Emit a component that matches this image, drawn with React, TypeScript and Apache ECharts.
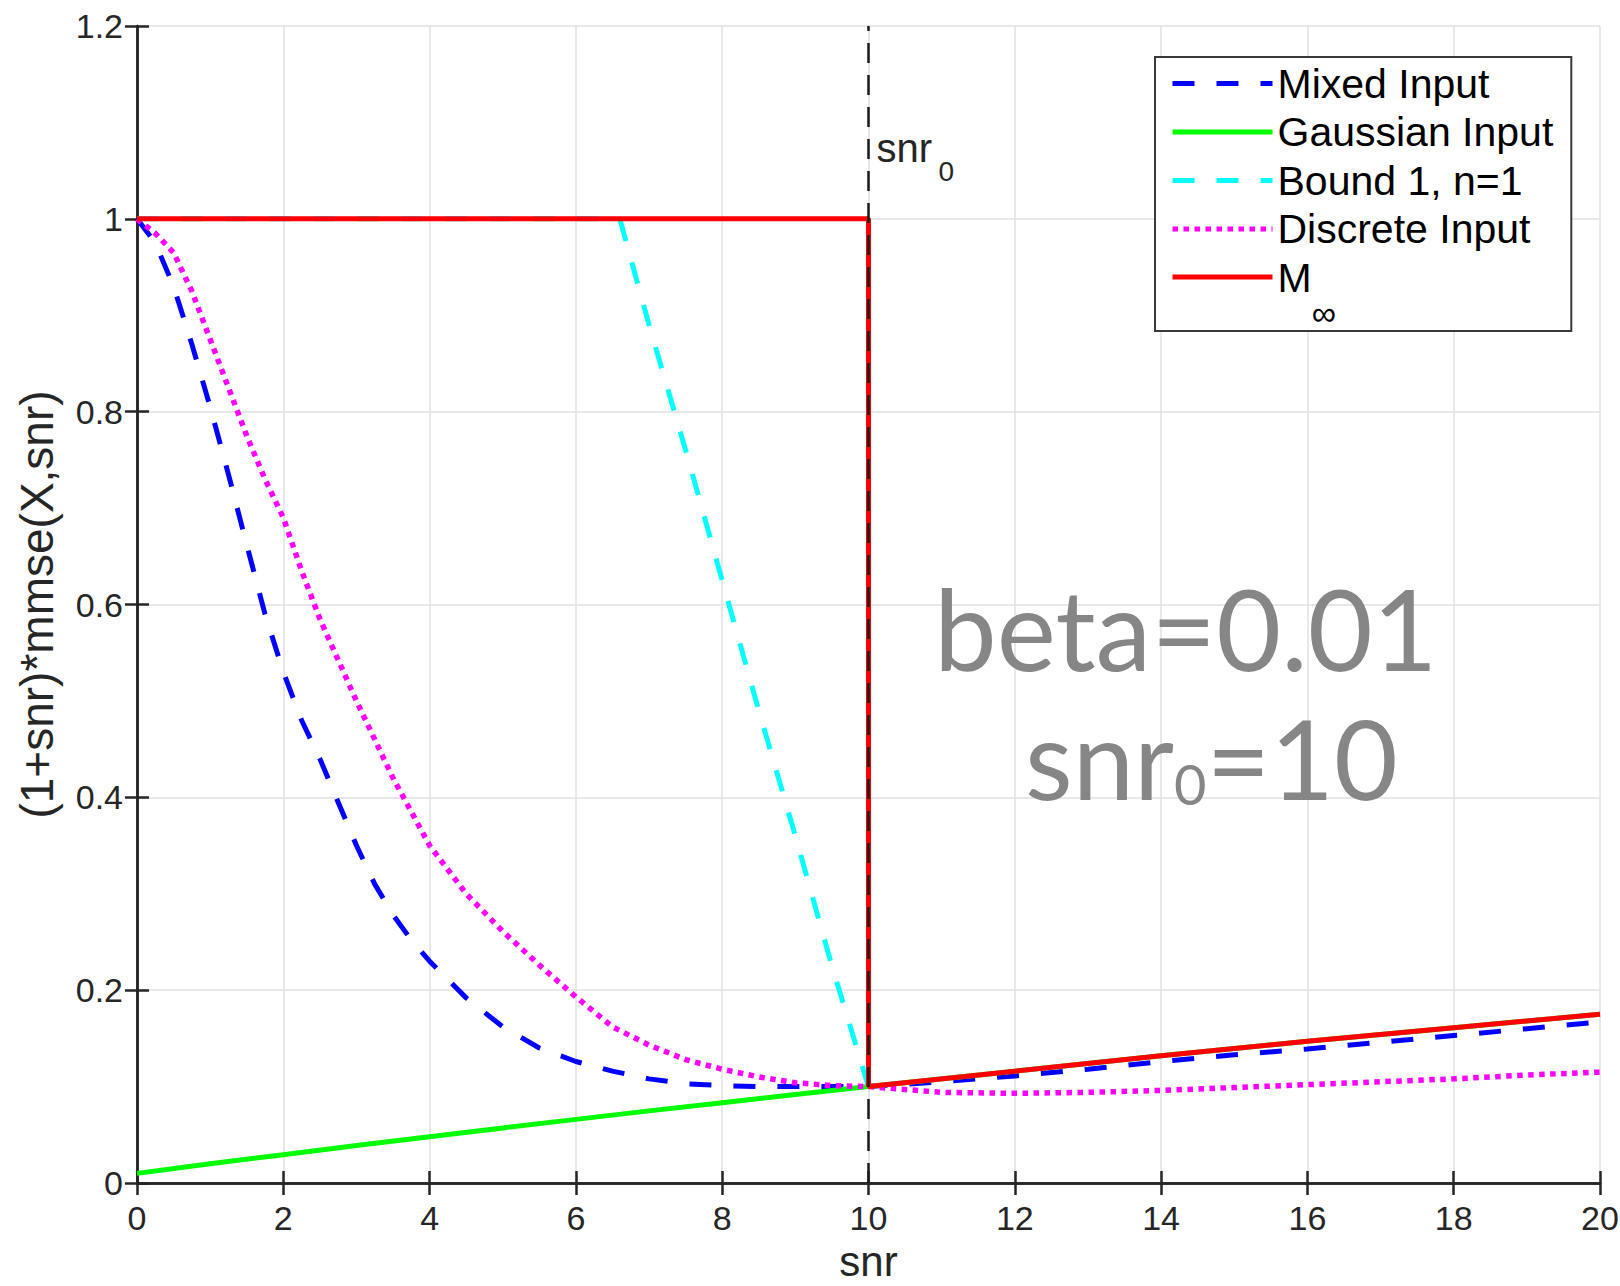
import React, { useEffect, useRef } from "react";
import * as echarts from "echarts";

// ---------- data ----------
const mixedSnr = [0, 0.25, 0.5, 0.75, 1, 1.25, 1.5, 1.75, 2, 2.25, 2.5, 2.75, 3, 3.25, 3.5, 3.75, 4, 4.5, 5, 5.5, 6, 6.5, 7, 7.5, 8, 8.5, 9, 9.5, 10, 11, 12, 13, 14, 15, 16, 17, 18, 19, 20];
const mixedVal = [1.0, 0.975, 0.93, 0.87, 0.805, 0.735, 0.662, 0.59, 0.53, 0.48, 0.44, 0.395, 0.35, 0.31, 0.278, 0.252, 0.23, 0.192, 0.162, 0.14, 0.126, 0.116, 0.108, 0.103, 0.101, 0.1, 0.1, 0.1, 0.1, 0.105, 0.111, 0.118, 0.126, 0.133, 0.139, 0.146, 0.153, 0.16, 0.167];

const gaussSnr = [0, 1, 2, 3, 4, 5, 6, 7, 8, 9, 10, 12, 14, 16, 18, 20];
const gaussVal = [0.01, 0.0199, 0.0294, 0.0388, 0.048, 0.0571, 0.066, 0.0748, 0.0833, 0.0917, 0.1, 0.116, 0.132, 0.147, 0.161, 0.175];

const boundSnr = [0, 6.6, 7, 7.5, 8, 8.5, 9, 9.5, 10];
const boundVal = [1.0, 1.0, 0.89, 0.76, 0.625, 0.49, 0.36, 0.225, 0.1];

const discreteSnr = [0, 0.25, 0.5, 0.75, 1, 1.25, 1.5, 1.75, 2, 2.25, 2.5, 3, 3.5, 4, 4.5, 5, 5.5, 6, 6.5, 7, 7.5, 8, 8.5, 9, 9.5, 10, 11, 12, 13, 14, 15, 16, 17, 18, 19, 20];
const discreteVal = [1.0, 0.985, 0.965, 0.925, 0.875, 0.825, 0.775, 0.73, 0.69, 0.635, 0.585, 0.5, 0.42, 0.35, 0.3, 0.261, 0.226, 0.193, 0.162, 0.143, 0.128, 0.118, 0.11, 0.104, 0.101, 0.1, 0.094, 0.093, 0.094, 0.096, 0.099, 0.102, 0.105, 0.108, 0.112, 0.115];

const mInfSnr = [0, 10, 10, 12, 14, 16, 18, 20];
const mInfVal = [1.0, 1.0, 0.1, 0.116, 0.132, 0.147, 0.161, 0.175];

const snr0 = 10;
const snr0LineY = [0, 1.2];

const legendNames = ["Mixed Input", "Gaussian Input", "Bound 1, n=1", "Discrete Input", "M∞"];

const zip = (xs: number[], ys: number[]) => xs.map((x, i) => [x, ys[i]]);

const FONT = '"Liberation Sans", Arial, Helvetica, sans-serif';
const BIG_FONT = "Lato, 'Noto Sans', sans-serif";
const AXIS_COLOR = "#262626";

export default function App() {
  const ref = useRef<HTMLDivElement>(null);

  useEffect(() => {
    document.body.style.margin = "0";
    if (!ref.current) return;
    const chart = echarts.init(ref.current, undefined, { renderer: "svg" });

    const axisLine = { show: true, lineStyle: { color: AXIS_COLOR, width: 2.5 } };
    const axisTick = { show: true, inside: true, length: 12, lineStyle: { color: AXIS_COLOR, width: 2.5 } };
    const splitLine = { show: true, lineStyle: { color: "#e0e0e0", width: 1.5 } };

    const option: any = {
      animation: false,
      backgroundColor: "#ffffff",
      textStyle: { fontFamily: FONT },
      grid: { left: 137, right: 20, top: 26, bottom: 103, containLabel: false, outerBoundsMode: "none" },
      xAxis: [
        {
          type: "value", min: 0, max: 20, interval: 2, position: "bottom",
          axisLine, axisTick, splitLine,
          axisLabel: { fontSize: 34, lineHeight: 36, color: AXIS_COLOR, margin: 17, fontFamily: FONT },
          name: "snr", nameLocation: "middle", nameGap: 57, nameMoveOverlap: false,
          nameTextStyle: { fontSize: 42, lineHeight: 42, color: AXIS_COLOR, fontFamily: FONT },
        },
        {
          type: "value", min: 0, max: 20, interval: 2, position: "top",
          axisLine, axisTick, splitLine: { show: false }, axisLabel: { show: false },
        },
      ],
      yAxis: [
        {
          type: "value", min: 0, max: 1.2, interval: 0.2, position: "left",
          axisLine, axisTick, splitLine,
          axisLabel: { fontSize: 34, color: AXIS_COLOR, margin: 14, fontFamily: FONT },
          name: "(1+snr)*mmse(X,snr)", nameLocation: "middle", nameGap: 77, nameMoveOverlap: false,
          nameTextStyle: { fontSize: 46, color: AXIS_COLOR, fontFamily: FONT },
        },
        {
          type: "value", min: 0, max: 1.2, interval: 0.2, position: "right",
          axisLine, axisTick, splitLine: { show: false }, axisLabel: { show: false },
        },
      ],
      legend: {
        data: legendNames,
        orient: "vertical",
        left: 1155,
        top: 57,
        itemWidth: 100,
        itemHeight: 14,
        itemGap: 7.5,
        padding: [6, 18, 1, 15],
        backgroundColor: "#ffffff",
        borderColor: "#3a3a3a",
        borderWidth: 2,
        borderRadius: 0,
        itemStyle: { opacity: 0, borderWidth: 0 },
        lineStyle: { width: 5, type: "inherit", color: "inherit" },
        textStyle: {
          fontSize: 41, color: "#000000", fontFamily: FONT, lineHeight: 40,
          rich: {
            base: { fontSize: 41, lineHeight: 40, verticalAlign: "top", fontFamily: FONT, color: "#000" },
            sub: { fontSize: 34, lineHeight: 20, padding: [39, 0, 0, 0], verticalAlign: "top", fontFamily: FONT, color: "#000" },
          },
        },
        formatter: (name: string) => (name === "M∞" ? "{base|M}{sub|∞}" : name),
      },
      series: [
        {
          name: "Mixed Input", type: "line", symbol: "none",
          data: zip(mixedSnr, mixedVal),
          lineStyle: { color: "#0000ff", width: 5, type: [22, 22] },
          itemStyle: { color: "#0000ff" }, z: 2,
        },
        {
          name: "Gaussian Input", type: "line", symbol: "none",
          data: zip(gaussSnr, gaussVal),
          lineStyle: { color: "#00ff00", width: 5, type: "solid" },
          itemStyle: { color: "#00ff00" }, z: 3,
        },
        {
          name: "Bound 1, n=1", type: "line", symbol: "none",
          data: zip(boundSnr, boundVal),
          lineStyle: { color: "#00ffff", width: 5, type: [22, 22] },
          itemStyle: { color: "#00ffff" }, z: 4,
        },
        {
          name: "Discrete Input", type: "line", symbol: "none",
          data: zip(discreteSnr, discreteVal),
          lineStyle: { color: "#ff00ff", width: 5.5, type: [5.5, 5.5] },
          itemStyle: { color: "#ff00ff" }, z: 5,
        },
        {
          name: "M∞", type: "line", symbol: "none",
          data: zip(mInfSnr, mInfVal),
          lineStyle: { color: "#ff0000", width: 5, type: "solid" },
          itemStyle: { color: "#ff0000" }, z: 6,
        },
        {
          name: "snr0", type: "line", symbol: "none",
          data: snr0LineY.map((y) => [snr0, y]),
          lineStyle: { color: "#1a1a1a", width: 2.5, type: [20, 12] },
          itemStyle: { color: "#1a1a1a" }, z: 7,
        },
      ],
    };

    chart.setOption(option);

    // annotation next to the snr0 line, anchored via the axes
    const p = chart.convertToPixel({ xAxisIndex: 0, yAxisIndex: 0 }, [snr0, 1.2]) as number[];
    const ax = p[0];
    const topY = p[1];

    chart.setOption({
      graphic: [
        {
          type: "text", x: ax + 8, y: topY + 122, z: 20,
          style: { text: "snr", fontSize: 40, fontFamily: FONT, fill: AXIS_COLOR, verticalAlign: "middle", align: "left" },
        },
        {
          type: "text", x: ax + 70, y: topY + 145, z: 20,
          style: { text: "0", fontSize: 28, fontFamily: FONT, fill: AXIS_COLOR, verticalAlign: "middle", align: "left" },
        },
        {
          type: "text", x: 934, y: 627, z: 20,
          style: { text: "beta=0.01", fontSize: 112, fontFamily: BIG_FONT, fill: "#868686", verticalAlign: "middle", align: "left" },
        },
        {
          type: "text", x: 1025, y: 755, z: 20,
          style: {
            text: "{a|snr}{b|0}{a|=10}",
            verticalAlign: "middle", align: "left",
            rich: {
              a: { fontSize: 110, lineHeight: 113, fontFamily: BIG_FONT, fill: "#868686", color: "#868686", verticalAlign: "bottom" },
              b: { fontSize: 56, lineHeight: 77, fontFamily: BIG_FONT, fill: "#868686", color: "#868686", verticalAlign: "bottom" },
            },
          },
        },
      ],
    });

    return () => chart.dispose();
  }, []);

  return <div ref={ref} style={{ width: 1620, height: 1286 }} />;
}
